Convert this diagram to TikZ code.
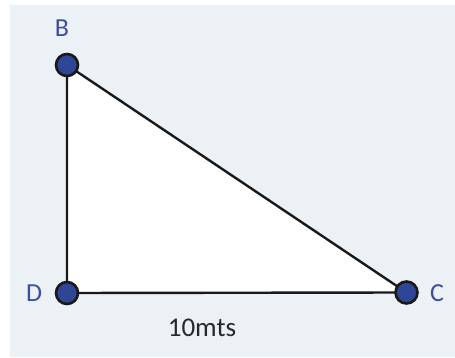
\documentclass[tikz,border=0pt]{standalone}
\usepackage{fontspec}
\setmainfont{Carlito}
\definecolor{bgc}{RGB}{236,241,245}
\definecolor{ptfill}{RGB}{45,70,150}
\definecolor{lblc}{RGB}{60,78,160}
\definecolor{txtc}{RGB}{40,40,40}
\begin{document}
\begin{tikzpicture}[x=1pt,y=-1pt,
  pt/.style={circle,draw=black!90,line width=2.6pt,fill=ptfill,minimum size=22pt,inner sep=0pt},
  lbl/.style={text=lblc,font=\fontsize{26}{26}\selectfont,inner sep=0pt},
  edge/.style={line width=2.4pt,black!90}]
\useasboundingbox (0,0) rectangle (455,358);
\fill[bgc] (10,5) rectangle (455,357);
\coordinate (b) at (67,65);
\coordinate (d) at (67,293);
\coordinate (c) at (406.5,292.5);
\fill[white] (b) -- (d) -- (c) -- cycle;
\draw[edge] (b) -- (d) -- (c) -- (b);
\node[pt] (B) at (b) {};
\node[pt] (D) at (d) {};
\node[pt] (C) at (c) {};
\node[lbl] (lB) at (62,28) {B};
\node[lbl] (lD) at (34,293) {D};
\node[lbl] (lC) at (437,293) {C};
\node[text=txtc,font=\fontsize{27}{27}\selectfont,inner sep=0pt] (len) at (202,328) {10mts};
\end{tikzpicture}
\end{document}
